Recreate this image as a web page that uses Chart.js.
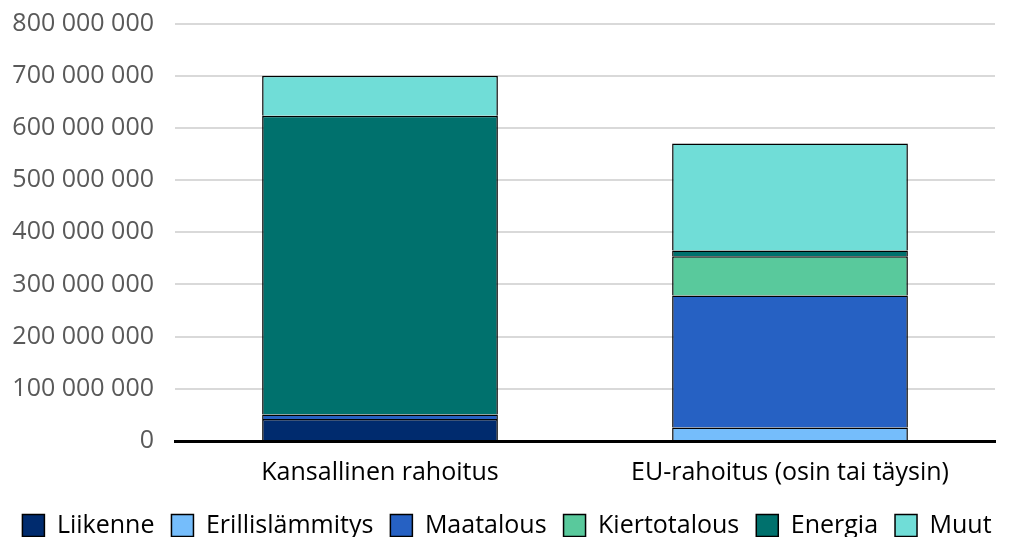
<!DOCTYPE html>
<html>
<head>
<meta charset="utf-8">
<script src="https://cdn.jsdelivr.net/npm/chart.js@4/dist/chart.umd.min.js"></script>
<style>
  html, body { margin: 0; padding: 0; background: #fff; overflow: hidden; }
  #wrap { width: 1010px; height: 558px; position: relative; top: -10px; }
</style>
</head>
<body>
<div id="wrap"><canvas id="chart"></canvas></div>
<script>
// Data
const categories = ['Kansallinen rahoitus', 'EU-rahoitus (osin tai täysin)'];
const seriesNames = ['Liikenne', 'Erillislämmitys', 'Maatalous', 'Kiertotalous', 'Energia', 'Muut'];
const liikenne = [42000000, 0];
const erillislammitys = [0, 26000000];
const maatalous = [9000000, 253000000];
const kiertotalous = [0, 75000000];
const energia = [572000000, 11000000];
const muut = [77000000, 205000000];
const colors = ['#002b6e', '#75bdfb', '#2661c3', '#59c99c', '#00716d', '#70ddd7'];

const values = [liikenne, erillislammitys, maatalous, kiertotalous, energia, muut];

const fmt = v => v.toLocaleString('fi-FI').replace(/\s/g, ' ');

new Chart(document.getElementById('chart'), {
    type: 'bar',
    data: {
        labels: categories,
        datasets: seriesNames.map((name, i) => ({
            label: name,
            data: values[i],
            backgroundColor: colors[i],
            borderColor: '#000',
            borderWidth: 1.5,
            barPercentage: 0.575,
            categoryPercentage: 1
        }))
    },
    options: {
        responsive: true,
        maintainAspectRatio: false,
        animation: false,
        layout: { padding: { top: 0, right: 0, left: 4, bottom: 0 } },
        plugins: {
            legend: {
                position: 'bottom',
                labels: {
                    color: '#000',
                    font: { family: 'Open Sans', size: 25 },
                    boxWidth: 22,
                    boxHeight: 22,
                    padding: 17,
                    generateLabels: chart => chart.data.datasets.map((ds, i) => ({
                        text: ds.label,
                        fillStyle: ds.backgroundColor,
                        strokeStyle: '#000',
                        lineWidth: 1.5,
                        fontColor: '#000',
                        datasetIndex: i
                    }))
                }
            },
            tooltip: { enabled: false }
        },
        scales: {
            x: {
                stacked: true,
                grid: { display: false },
                border: { color: '#000', width: 3 },
                ticks: { color: '#000', font: { family: 'Open Sans', size: 25, lineHeight: 1 }, padding: 11 }
            },
            y: {
                stacked: true,
                min: 0,
                max: 800000000,
                grid: { color: '#d9d9d9', lineWidth: 2, drawTicks: false },
                border: { display: false },
                afterFit: scale => { scale.width = 171; },
                ticks: {
                    stepSize: 100000000,
                    color: '#595959',
                    padding: 21,
                    font: { family: 'Open Sans', size: 25, lineHeight: 1 },
                    callback: v => fmt(v)
                }
            },
            // empty right-hand spacer so the plot ends where the reference does
            yRight: {
                position: 'right',
                grid: { display: false },
                border: { display: false },
                ticks: { display: false },
                afterFit: scale => { scale.width = 15; }
            }
        }
    }
});
</script>
</body>
</html>
